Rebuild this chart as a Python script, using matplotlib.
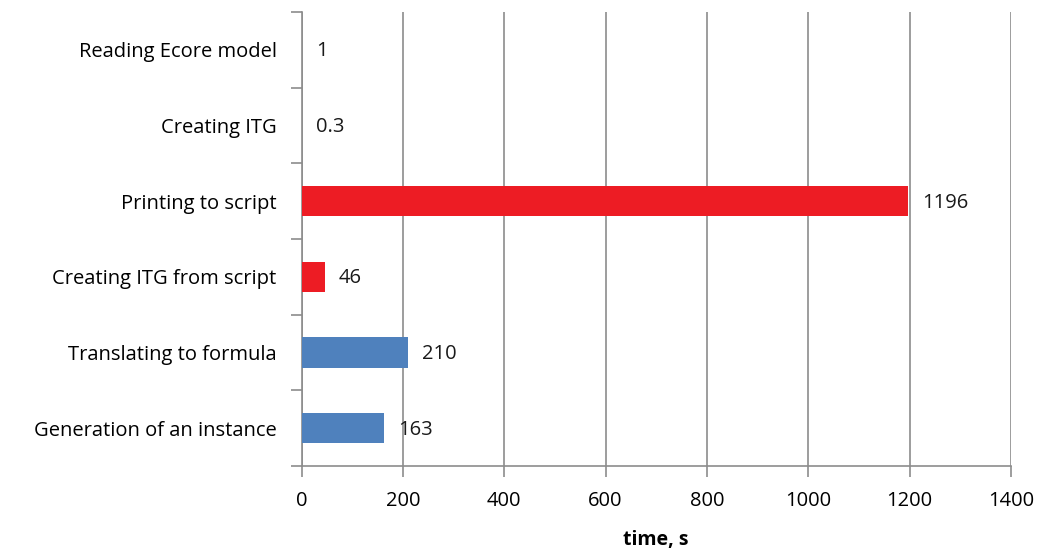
import matplotlib
matplotlib.use("Agg")
import matplotlib.pyplot as plt

categories = ["Reading Ecore model", "Creating ITG", "Printing to script",
              "Creating ITG from script", "Translating to formula",
              "Generation of an instance"]
times = [1, 0.3, 1196, 46, 210, 163]
labels = ["1", "0.3", "1196", "46", "210", "163"]
colors = ["#4F81BD", "#4F81BD", "#ED1C24", "#ED1C24", "#4F81BD", "#4F81BD"]
xticks = [0, 200, 400, 600, 800, 1000, 1200, 1400]

plt.rcParams['font.family'] = ['Open Sans', 'DejaVu Sans']

fig = plt.figure(figsize=(10.4, 5.52), dpi=100)
ax = fig.add_axes([0.29, 0.156, 0.682, 0.822])

ypos = list(range(len(categories)))[::-1]
ax.barh(ypos, times, height=0.4, color=colors, zorder=3)

# value labels just right of each bar
for y, t, lab in zip(ypos, times, labels):
    ax.text(t + 28, y - 0.02, lab, va='center', ha='left', fontsize=14.5, color='#1a1a1a', zorder=4)

ax.set_xlim(0, 1400)
ax.set_ylim(-0.5, len(categories) - 0.5)
ax.set_xticks(xticks)
ax.set_xticklabels([str(v) for v in xticks], fontsize=14.5)
ax.set_yticks(ypos)
ax.set_yticklabels(categories, fontsize=14.5)
ax.tick_params(axis='y', length=0, pad=18)
ax.set_yticks([i + 0.5 for i in range(-1, len(categories))], minor=True)
ax.tick_params(axis='y', which='minor', length=8, color='#8c8c8c', width=1.2)
ax.tick_params(axis='x', length=8, color='#8c8c8c', width=1.2, pad=10)

ax.grid(axis='x', color='#8c8c8c', linewidth=1.2, zorder=0)
for side in ['top', 'right']:
    ax.spines[side].set_visible(False)
for side in ['left', 'bottom']:
    ax.spines[side].set_color('#8c8c8c')
    ax.spines[side].set_linewidth(1.2)

ax.set_xlabel("time, s", fontsize=14, fontweight='bold', labelpad=14)

fig.savefig("out.png", dpi=100)
